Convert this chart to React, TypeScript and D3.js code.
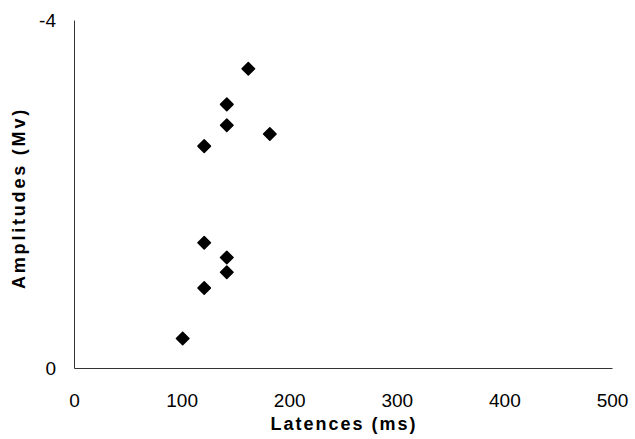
import React, { useEffect, useRef } from 'react';
import * as d3 from 'd3';

// latency (ms) and amplitude (Mv, negative up)
const latences = [101, 121, 121, 142, 142, 121, 142, 142, 162, 182];
const amplitudes = [-0.34, -0.92, -1.44, -1.1, -1.27, -2.55, -2.79, -3.03, -3.44, -2.69];
const xTicks = [0, 100, 200, 300, 400, 500];
const yTicks = [0, -4];

const width = 635;
const height = 439;
const margin = { top: 20, right: 23, bottom: 71, left: 74 };
const font = 'Liberation Sans, Arial, sans-serif';

const App = () => {
  const ref = useRef<SVGSVGElement>(null);

  useEffect(() => {
    const svg = d3.select(ref.current);
    svg.selectAll('*').remove();

    const x = d3.scaleLinear().domain([0, 500]).range([margin.left, width - margin.right]);
    const y = d3.scaleLinear().domain([0, -4]).range([height - margin.bottom, margin.top]);

    const xAxis = svg.append('g')
      .attr('transform', `translate(0, ${height - margin.bottom})`)
      .call(d3.axisBottom(x).tickValues(xTicks).tickSize(0).tickPadding(26).tickSizeOuter(0));
    xAxis.select('.domain').attr('stroke', '#333');
    xAxis.selectAll('text').attr('font-size', 19).attr('font-family', font).attr('fill', '#000');

    const yAxis = svg.append('g')
      .attr('transform', `translate(${margin.left}, 0)`)
      .call(d3.axisLeft(y).tickValues(yTicks).tickSize(0).tickPadding(18).tickSizeOuter(0)
        .tickFormat(d => String(d)));
    yAxis.select('.domain').attr('stroke', '#333');
    yAxis.selectAll('text').attr('font-size', 19).attr('font-family', font).attr('fill', '#000');

    const diamond = d3.symbol().type(d3.symbolDiamond2).size(100);
    svg.append('g')
      .selectAll('path')
      .data(latences.map((l, i) => ({ l, a: amplitudes[i] })))
      .enter()
      .append('path')
      .attr('d', diamond)
      .attr('transform', d => `translate(${x(d.l)}, ${y(d.a)})`)
      .attr('fill', '#000')
      .attr('stroke', '#000')
      .attr('stroke-linejoin', 'round')
      .attr('stroke-width', 1.5);

    svg.append('text')
      .attr('x', 344)
      .attr('y', 430)
      .attr('text-anchor', 'middle')
      .attr('font-size', 18)
      .attr('font-weight', 'bold')
      .attr('letter-spacing', 2)
      .attr('font-family', font)
      .text('Latences (ms)');

    svg.append('text')
      .attr('transform', `translate(25, 198) rotate(-90)`)
      .attr('text-anchor', 'middle')
      .attr('font-size', 18)
      .attr('font-weight', 'bold')
      .attr('letter-spacing', 2.8)
      .attr('font-family', font)
      .text('Amplitudes (Mv)');
  });

  return (
    <svg ref={ref} width={width} height={height} viewBox={`0 0 ${width} ${height}`}
      style={{ position: 'absolute', left: 0, top: 0, background: '#fff' }} />
  );
};

export default App;
